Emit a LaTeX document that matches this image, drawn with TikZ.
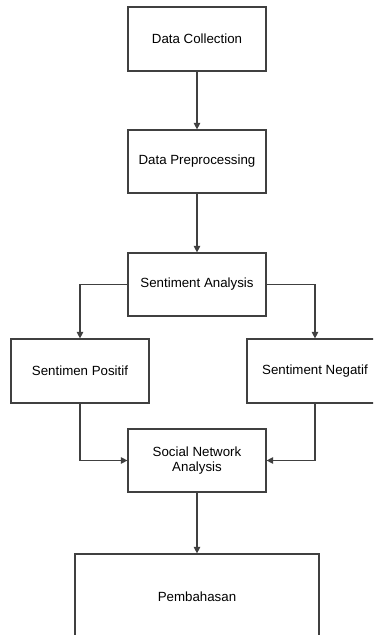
\documentclass[tikz,border=0pt]{standalone}
\usepackage{fontspec}
\setmainfont{Liberation Sans}
\usetikzlibrary{arrows.meta}
\begin{document}
\begin{tikzpicture}[x=1pt,y=-1pt,
  box/.style={draw=black!75,line width=1.2pt,fill=white,rectangle,inner sep=0pt,align=center,font=\fontsize{13.3}{15.5}\selectfont},
  conn/.style={draw=black!75,line width=1.2pt,-{Triangle[width=6.5pt,length=6.5pt]}}]
\clip (0,0) rectangle (373,635);
\fill[white] (0,0) rectangle (373,635);
\node[box,minimum width=138pt,minimum height=64pt] (dc) at (197,39) {Data Collection};
\node[box,minimum width=138pt,minimum height=63pt] (dp) at (197,161.5) {Data Preprocessing};
\node[box,minimum width=138pt,minimum height=63pt] (sa) at (197,284.5) {Sentiment Analysis};
\node[box,minimum width=138pt,minimum height=64pt] (sp) at (80,371) {Sentimen Positif};
\node[box,minimum width=136pt,minimum height=64pt] (sn) at (315,371) {Sentiment Negatif};
\node[box,minimum width=138pt,minimum height=63pt] (sna) at (197,460.5) {Social Network\\Analysis};
\node[box,minimum width=244pt,minimum height=86pt] (pb) at (197,597) {Pembahasan};
\draw[conn] (dc.south) -- (dp.north);
\draw[conn] (dp.south) -- (sa.north);
\draw[conn] (sa.west) -| (sp.north);
\draw[conn] (sa.east) -| (sn.north);
\draw[conn] (sp.south) |- (sna.west);
\draw[conn] (sn.south) |- (sna.east);
\draw[conn] (sna.south) -- (pb.north);
\end{tikzpicture}
\end{document}
